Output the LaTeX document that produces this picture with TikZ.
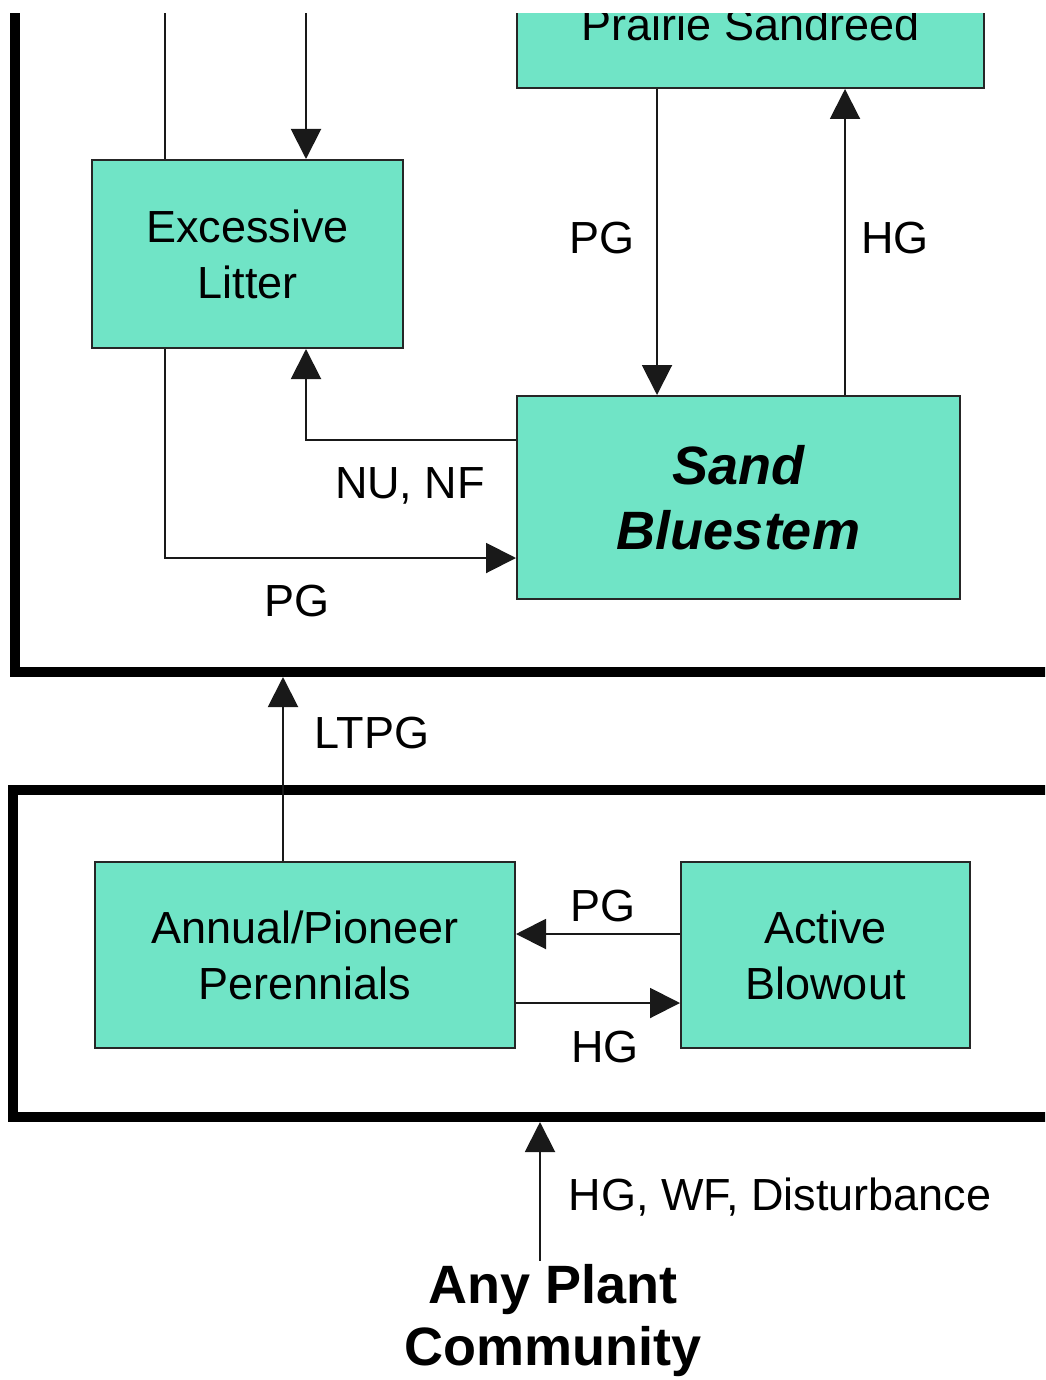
\documentclass[tikz,border=0pt]{standalone}
\usepackage{fontspec}
\setmainfont{Liberation Sans}
\usetikzlibrary{arrows.meta}
\definecolor{boxfill}{RGB}{112,228,198}
\begin{document}
\begin{tikzpicture}[x=1pt,y=-1pt,
  box/.style={draw=black!85, line width=2pt, fill=boxfill, align=center,
    font=\fontsize{45}{56}\selectfont, inner sep=0pt},
  conn/.style={line width=2pt, draw=black!90},
  arr/.style={conn, -{Triangle[length=30pt,width=30pt]}},
  lbl/.style={font=\fontsize{45}{56}\selectfont, inner sep=0pt, anchor=base},
  frame/.style={line width=10pt, draw=black}]
\useasboundingbox (0,0) rectangle (1045,1380);
\begin{scope}
\clip (0,14) rectangle (1045,1380);
% frames
\draw[frame] (15,-20) -- (15,672) -- (1060,672);
\draw[frame] (1060,790) -- (13,790) -- (13,1117) -- (1060,1117);
% boxes
\node[box, minimum width=467pt, minimum height=128pt] (sandreed) at (750.5,24) {Prairie Sandreed};
\node[box, minimum width=311pt, minimum height=188pt] (litter) at (247.5,254) {Excessive\\Litter};
\node[box, minimum width=443pt, minimum height=203pt,
  font=\bfseries\itshape\fontsize{54}{65}\selectfont] (bluestem) at (738.5,497.5) {Sand\\Bluestem};
\node[box, minimum width=420pt, minimum height=186pt] (annual) at (305,955) {Annual/Pioneer\\Perennials};
\node[box, minimum width=289pt, minimum height=186pt] (blowout) at (825.5,955) {Active\\Blowout};
\node[font=\bfseries\fontsize{54}{62}\selectfont, align=center, inner sep=4pt] (any) at (553,1321) {Any Plant\\Community};
% helper coordinates
\coordinate (t165) at (165,0);
\coordinate (t306) at (306,0);
\coordinate (c657) at (657,0);
\coordinate (c845) at (845,0);
\coordinate (r558) at (0,558);
\coordinate (r440) at (0,440);
\coordinate (r934) at (0,934);
\coordinate (r1003) at (0,1003);
\coordinate (ltpgend) at (283,677);
\coordinate (frameb) at (540,1122);
% connectors
\draw[conn] (t165) -- (litter.north -| t165);
\draw[arr] (t306) -- (litter.north -| t306);
\draw[arr] (litter.south -| t165) |- (bluestem.west |- r558);
\draw[arr] (bluestem.west |- r440) -| (litter.south -| t306);
\draw[arr] (sandreed.south -| c657) -- (bluestem.north -| c657);
\draw[arr] (bluestem.north -| c845) -- (sandreed.south -| c845);
\draw[arr] (annual.north -| ltpgend) -- (ltpgend);
\draw[arr] (blowout.west |- r934) -- (annual.east |- r934);
\draw[arr] (annual.east |- r1003) -- (blowout.west |- r1003);
\draw[arr] (any.north -| frameb) -- (frameb);
% labels
\node[lbl] (l1) at (602,253) {PG};
\node[lbl] (l2) at (895,253) {HG};
\node[lbl] (l3) at (410,498) {NU, NF};
\node[lbl] (l4) at (297,616) {PG};
\node[lbl] (l5) at (372,748) {LTPG};
\node[lbl] (l6) at (603,921) {PG};
\node[lbl] (l7) at (605,1062) {HG};
\node[lbl] (l8) at (780,1210) {HG, WF, Disturbance};
\end{scope}
\end{tikzpicture}
\end{document}
